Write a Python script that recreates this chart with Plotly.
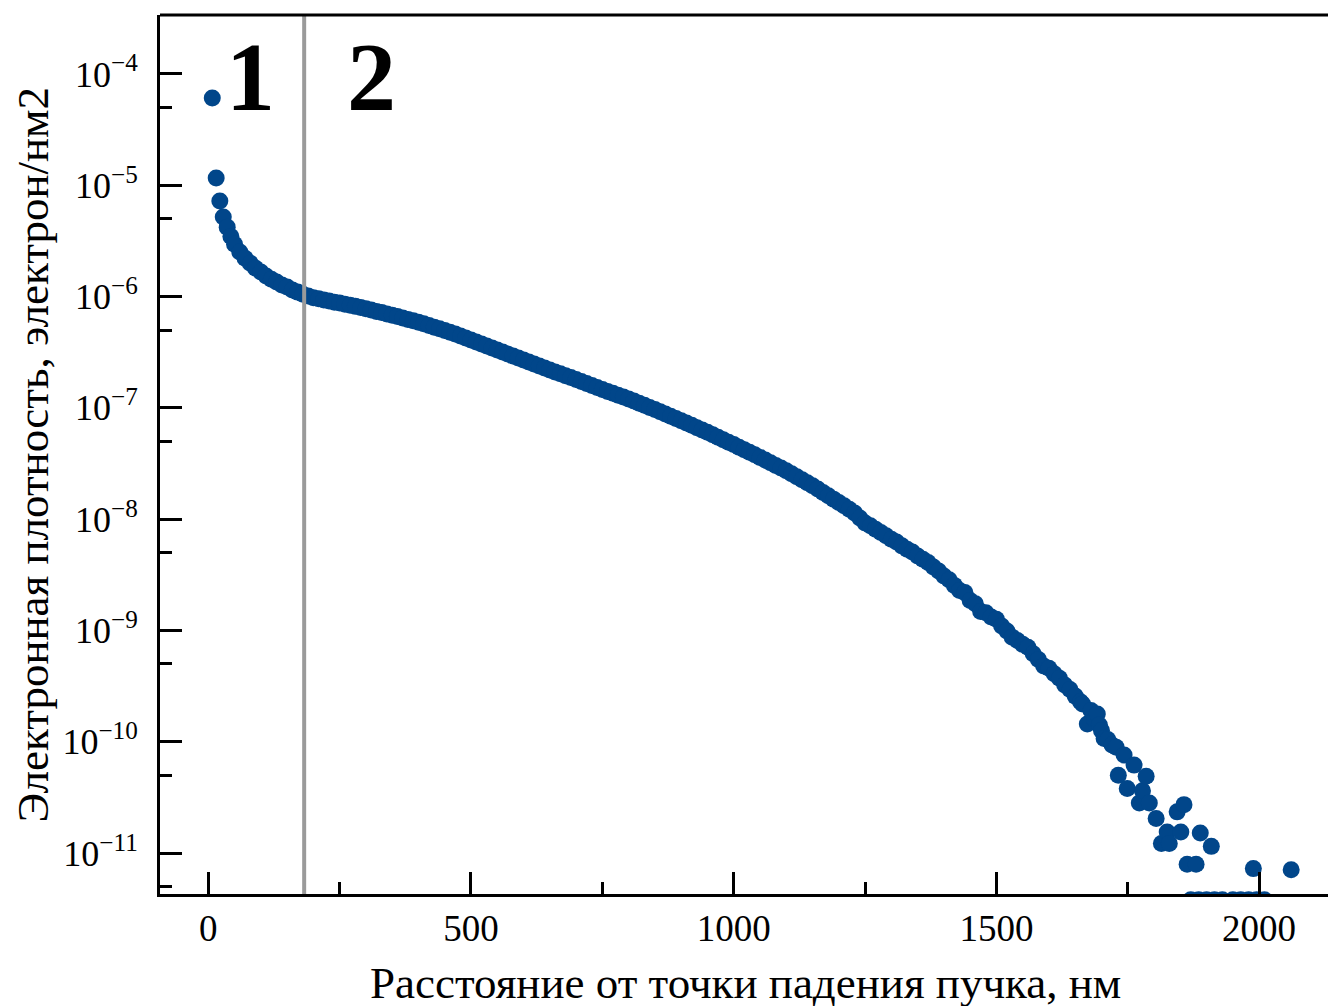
import plotly.graph_objects as go

# ---------------- data ----------------
# distance from beam impact point, nm
head_nm = [7.6, 15, 22, 28.5, 36, 43]
head_log = [-4.216, -4.935, -5.142, -5.286, -5.376, -5.46]

dense_nm = [
    50, 60, 70, 80, 90, 100, 110, 120, 130, 140,
    150, 160, 170, 180, 190, 200, 210, 220, 230, 240,
    250, 260, 270, 280, 290, 300, 310, 320, 330, 340,
    350, 360, 370, 380, 390, 400, 410, 420, 430, 440,
    450, 460, 470, 480, 490, 500, 510, 520, 530, 540,
    550, 560, 570, 580, 590, 600, 610, 620, 630, 640,
    650, 660, 670, 680, 690, 700, 710, 720, 730, 740,
    750, 760, 770, 780, 790, 800, 810, 820, 830, 840,
    850, 860, 870, 880, 890, 900, 910, 920, 930, 940,
    950, 960, 970, 980, 990, 1000, 1010, 1020, 1030, 1040,
    1050, 1060, 1070, 1080, 1090, 1100, 1110, 1120, 1130, 1140,
    1150, 1160, 1170, 1180, 1190, 1200, 1210, 1220, 1230, 1240,
    1250, 1260, 1270, 1280, 1290, 1300, 1310, 1320, 1330, 1340,
    1350, 1360, 1370, 1380, 1390, 1400, 1410, 1420, 1430, 1440,
    1450, 1460, 1470, 1480, 1490, 1500, 1510, 1520, 1530, 1540,
    1550, 1560, 1570, 1580, 1590, 1600, 1610, 1620, 1630, 1640,
    1650,
]
# log10 of electron density (electron / nm^2)
dense_log = [
    -5.53, -5.60, -5.655, -5.70, -5.745, -5.78, -5.815, -5.845, -5.87, -5.895,
    -5.915, -5.94, -5.96, -5.98, -5.995, -6.01, -6.02, -6.03, -6.04, -6.05,
    -6.058, -6.068, -6.078, -6.088, -6.099, -6.11, -6.121, -6.133, -6.144, -6.156,
    -6.168, -6.18, -6.193, -6.205, -6.218, -6.23, -6.245, -6.26, -6.275, -6.29,
    -6.305, -6.32, -6.337, -6.354, -6.372, -6.39, -6.408, -6.426, -6.444, -6.462,
    -6.48, -6.498, -6.516, -6.534, -6.552, -6.57, -6.588, -6.606, -6.624, -6.642,
    -6.66, -6.677, -6.694, -6.711, -6.728, -6.745, -6.763, -6.781, -6.799, -6.817,
    -6.835, -6.852, -6.869, -6.886, -6.903, -6.92, -6.939, -6.958, -6.977, -6.996,
    -7.015, -7.035, -7.055, -7.075, -7.095, -7.115, -7.136, -7.157, -7.178, -7.199,
    -7.22, -7.242, -7.264, -7.286, -7.308, -7.33, -7.353, -7.376, -7.399, -7.422,
    -7.445, -7.469, -7.493, -7.517, -7.541, -7.565, -7.592, -7.619, -7.646, -7.673,
    -7.70, -7.73, -7.76, -7.79, -7.82, -7.85, -7.88, -7.91, -7.945, -7.99,
    -8.035, -8.06, -8.09, -8.12, -8.15, -8.18, -8.205, -8.24, -8.27, -8.295,
    -8.33, -8.36, -8.39, -8.43, -8.465, -8.51, -8.545, -8.595, -8.64, -8.66,
    -8.73, -8.76, -8.83, -8.84, -8.88, -8.90, -8.96, -9.005, -9.06, -9.09,
    -9.125, -9.15, -9.21, -9.26, -9.32, -9.34, -9.39, -9.43, -9.49, -9.53,
    -9.59,
]

tail_nm = [1660, 1664, 1673, 1680, 1687, 1692, 1696, 1700, 1705, 1712,
           1720, 1728, 1732, 1743, 1749, 1762, 1772, 1778, 1785, 1791,
           1804, 1814, 1825, 1829, 1844, 1851, 1857, 1863, 1880, 1888,
           1909, 1989, 2061,
           1870, 1885, 1900, 1915, 1930, 1950, 1965, 1980, 1995, 2010]
tail_log = [-9.64, -9.66, -9.84, -9.72, -9.80, -9.75, -9.85, -9.90, -9.97, -9.98,
            -10.03, -10.05, -10.30, -10.12, -10.42, -10.21, -10.55, -10.44, -10.31, -10.55,
            -10.69, -10.915, -10.81, -10.915, -10.63, -10.81, -10.565, -11.10, -11.10, -10.82,
            -10.94, -11.14, -11.15,
            -11.42, -11.42, -11.42, -11.42, -11.42, -11.42, -11.42, -11.42, -11.42, -11.42]

boundary_nm = 182.5          # border between regions 1 and 2
region_labels = ["1", "2"]
region_label_nm = [80, 310]

y_tick_vals = [1e-4, 1e-5, 1e-6, 1e-7, 1e-8, 1e-9, 1e-10, 1e-11]
y_tick_text = ["10<sup>−4</sup>", "10<sup>−5</sup>", "10<sup>−6</sup>", "10<sup>−7</sup>",
               "10<sup>−8</sup>", "10<sup>−9</sup>", "10<sup>−10</sup>", "10<sup>−11</sup>"]
y_minor_vals = [5e-5, 5e-6, 5e-7, 5e-8, 5e-9, 5e-10, 5e-11, 5e-12]
x_tick_vals = [0, 500, 1000, 1500, 2000]
x_minor_vals = [250, 750, 1250, 1750]

x_title = "Расстояние от точки падения пучка, нм"
y_title = "Электронная плотность, электрон/нм2"

# ---------------------------------------------------------------
all_nm = head_nm + dense_nm + tail_nm
all_density = [10 ** v for v in head_log + dense_log + tail_log]

FONT = "Liberation Serif"
COLOR = "#01468A"

fig = go.Figure()
fig.add_trace(go.Scatter(
    x=all_nm, y=all_density, mode="markers",
    marker=dict(size=17, color=COLOR, line=dict(width=0)),
    cliponaxis=True, showlegend=False,
))

fig.add_vline(x=boundary_nm, line=dict(color="#9a9a9a", width=4), layer="above")

for lbl, xv in zip(region_labels, region_label_nm):
    fig.add_annotation(x=xv, y=-4.03, xref="x", yref="y", text=f"<b>{lbl}</b>",
                       showarrow=False, font=dict(family=FONT, size=98, color="black"),
                       xanchor="center", yanchor="middle")

# top frame line
fig.add_shape(type="line", xref="paper", yref="paper", x0=0, x1=1, y0=1, y1=1,
              line=dict(color="black", width=3))

fig.add_annotation(xref="paper", yref="paper", x=0.5014, y=-0.101, text=x_title,
                   showarrow=False, font=dict(family=FONT, size=45, color="black"),
                   xanchor="center", yanchor="middle")
fig.add_annotation(xref="paper", yref="paper", x=-0.1095, y=0.5, text=y_title,
                   textangle=-90, showarrow=False,
                   font=dict(family=FONT, size=45, color="black"),
                   xanchor="center", yanchor="middle")

fig.update_xaxes(
    range=[-91.9, 2131.1], showgrid=False, zeroline=False,
    showline=True, linewidth=3, linecolor="black",
    ticks="inside", ticklen=22, tickwidth=3, tickcolor="black",
    tickvals=x_tick_vals, ticktext=[str(v) for v in x_tick_vals],
    tickfont=dict(family=FONT, size=37, color="black"),
    minor=dict(tickvals=x_minor_vals, ticks="inside", ticklen=12, tickwidth=3,
               tickcolor="black", showgrid=False),
)
fig.update_yaxes(
    type="log", range=[-11.368, -3.470], showgrid=False, zeroline=False,
    showline=True, linewidth=3, linecolor="black",
    ticks="inside", ticklen=22, tickwidth=3, tickcolor="black",
    tickvals=y_tick_vals, ticktext=y_tick_text,
    tickfont=dict(family=FONT, size=36, color="black"),
    ticklabelstandoff=12,
    minor=dict(tickvals=y_minor_vals, ticks="inside", ticklen=12, tickwidth=3,
               tickcolor="black", showgrid=False),
)

fig.update_layout(
    width=1328, height=1006,
    margin=dict(l=160, r=0, t=15, b=112),
    plot_bgcolor="white", paper_bgcolor="white",
    font=dict(family=FONT, color="black"),
    showlegend=False,
)

fig.write_html("out.html",
               config={"displayModeBar": False},
               post_script="document.body.style.margin='0px';document.body.style.overflow='hidden';")
